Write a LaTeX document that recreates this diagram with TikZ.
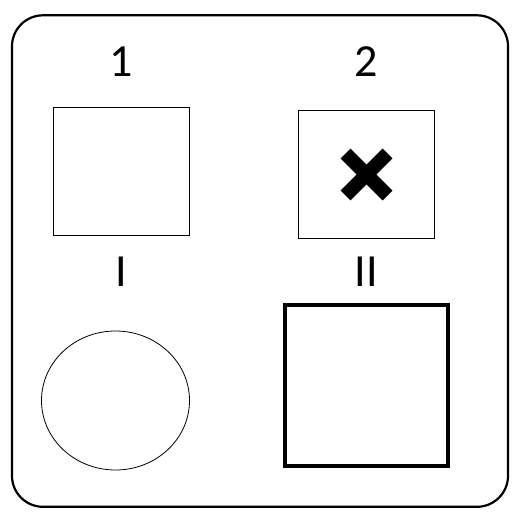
\documentclass[tikz,border=0pt]{standalone}
\usepackage{fontspec}
\setmainfont{Carlito}
\usetikzlibrary{positioning,shapes.geometric}

\begin{document}
\begin{tikzpicture}[x=1pt,y=-1pt,
  label node/.style={font=\fontsize{46}{46}\selectfont,inner sep=0pt},
  small box/.style={draw,line width=1pt,minimum width=136pt,minimum height=128pt,inner sep=0pt},
  big box/.style={draw,line width=4pt,minimum width=162.7pt,minimum height=160.7pt,inner sep=0pt},
  round node/.style={ellipse,draw,line width=0.8pt,minimum width=148pt,minimum height=139pt,inner sep=0pt}]
  \useasboundingbox (0,0) rectangle (518,522);

  % frame
  \draw[line width=2.2pt,rounded corners=31pt] (12,15.3) rectangle (508,506.8);

  \node[label node] (1) at (121,62) {1};
  \node[label node] (2) at (366,62) {2};
  \node[small box] (box1) at (121.5,171.5) {};
  \node[small box] (box2) at (366.5,174.5) {};
  \node[label node] (I) at (121,272) {I};
  \node[label node] (II) at (366,272) {II};
  \node[round node] (circ) at (115.5,400.5) {};
  \node[big box] (box3) at (366.7,385.2) {};

  % cross in box 2
  \draw[line width=14pt] ([shift={(-21,-21)}]box2.center) -- ([shift={(21,21)}]box2.center);
  \draw[line width=14pt] ([shift={(21,-21)}]box2.center) -- ([shift={(-21,21)}]box2.center);
\end{tikzpicture}
\end{document}
